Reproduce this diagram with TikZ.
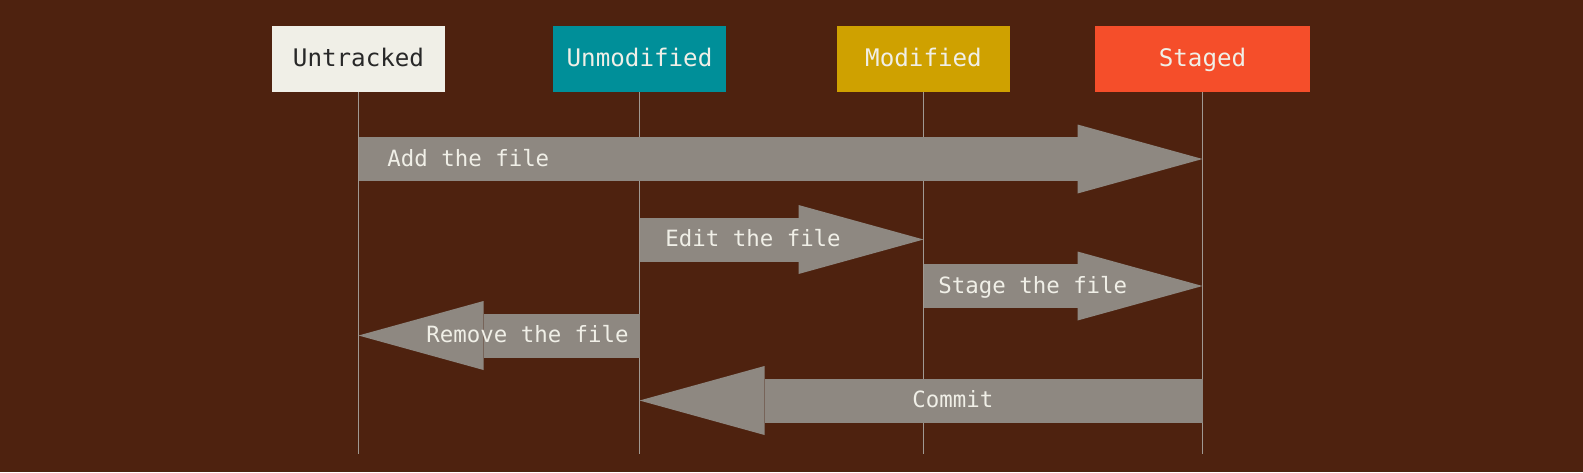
\documentclass[tikz,border=0pt]{standalone}
\usepackage{fontspec}
\newfontfamily\gitmono{DejaVu Sans Mono}
\usetikzlibrary{arrows.meta}

\definecolor{bgbrown}{RGB}{78,34,15}
\definecolor{untrackedfill}{RGB}{240,239,231}
\definecolor{unmodifiedfill}{RGB}{0,143,153}
\definecolor{modifiedfill}{RGB}{207,161,0}
\definecolor{stagedfill}{RGB}{245,78,42}
\definecolor{arrowgray}{RGB}{142,136,129}
\definecolor{linegray}{RGB}{160,153,146}
\definecolor{labelwhite}{RGB}{240,239,231}
\definecolor{darktext}{RGB}{40,40,40}

\begin{document}
\begin{tikzpicture}[
    x=0.5pt, y=-0.5pt,
    statebox/.style={rectangle, minimum width=86.5pt, minimum height=33pt, inner sep=0pt, text height=0.73em, text depth=0pt, font=\gitmono\fontsize{12.1}{14}\selectfont},
    lifeline/.style={draw=linegray, line width=0.8pt},
    fat/.style={draw=arrowgray, line width=22pt, -{Triangle[length=62.5pt, width=34.5pt, line width=0pt]}},
    steplabel/.style={text=labelwhite, inner sep=0pt, text height=0.73em, text depth=0pt, anchor=west, font=\gitmono\fontsize{11.2}{13}\selectfont}
]

% Background and page size
\fill[bgbrown] (0,0) rectangle (1583,472);
\useasboundingbox (0,0) rectangle (1583,472);

% File states (top)
\node[statebox, fill=untrackedfill, text=darktext] (untracked) at (358.5,59) {Untracked};
\node[statebox, fill=unmodifiedfill, text=labelwhite] (unmodified) at (639.5,59) {Unmodified};
\node[statebox, fill=modifiedfill, text=labelwhite] (modified) at (923.5,59) {Modified};
\node[statebox, fill=stagedfill, text=labelwhite, minimum width=107.5pt] (staged) at (1202.5,59) {Staged};

% Rows of the arrows
\coordinate (row_add) at (0,159);
\coordinate (row_edit) at (0,239.5);
\coordinate (row_stage) at (0,286);
\coordinate (row_remove) at (0,335.5);
\coordinate (row_commit) at (0,400.5);
\coordinate (row_end) at (0,454);

% Lifelines
\draw[lifeline] (untracked.south) -- (untracked.south |- row_end);
\draw[lifeline] (unmodified.south) -- (unmodified.south |- row_end);
\draw[lifeline] (modified.south) -- (modified.south |- row_end);
\draw[lifeline] (staged.south) -- (staged.south |- row_end);

% Transitions
\draw[fat] (untracked.south |- row_add) -- (staged.south |- row_add);
\draw[fat] (unmodified.south |- row_edit) -- (modified.south |- row_edit);
\draw[fat] (modified.south |- row_stage) -- (staged.south |- row_stage);
\draw[fat] (unmodified.south |- row_remove) -- (untracked.south |- row_remove);
\draw[fat] (staged.south |- row_commit) -- (unmodified.south |- row_commit);

% Labels of the transitions
\node[steplabel] (add_label) at (387,159) {Add the file};
\node[steplabel] (edit_label) at (665,239.5) {Edit the file};
\node[steplabel] (stage_label) at (938,286) {Stage the file};
\node[steplabel] (remove_label) at (426,335.5) {Remove the file};
\node[steplabel] (commit_label) at (912,400.5) {Commit};

\end{tikzpicture}
\end{document}
